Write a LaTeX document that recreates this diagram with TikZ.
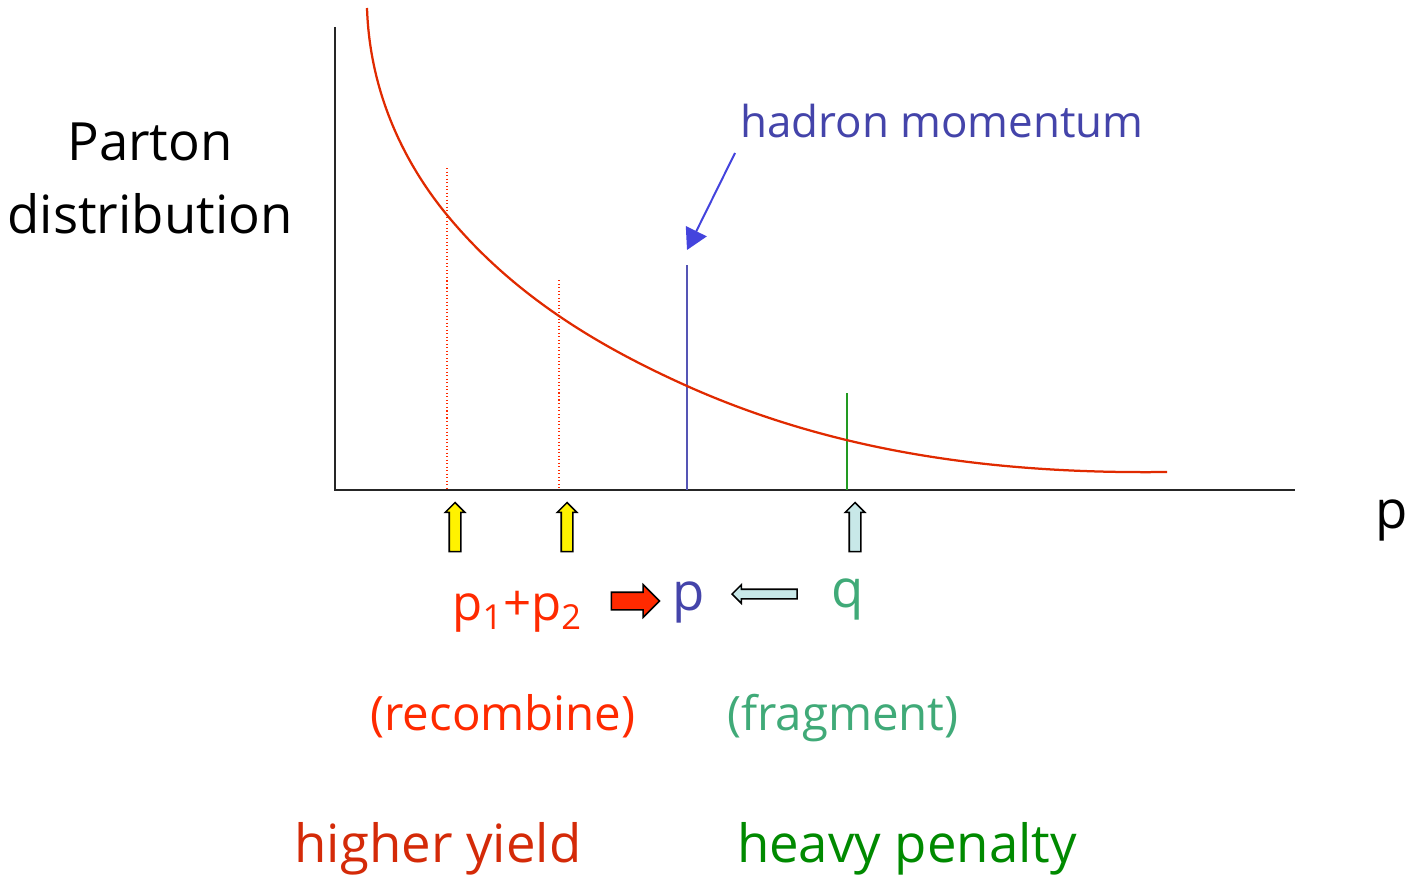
\documentclass[tikz,border=0pt]{standalone}
\usepackage{fontspec}
\setmainfont{Open Sans}
\usetikzlibrary{shapes.arrows,arrows.meta}

\definecolor{curvered}{HTML}{E02A00}
\definecolor{textred}{HTML}{FF2A00}
\definecolor{darkred}{HTML}{D42A08}
\definecolor{hadblue}{HTML}{4444AA}
\definecolor{arrowblue}{HTML}{4444DD}
\definecolor{lineblue}{HTML}{5555B5}
\definecolor{fraggreen}{HTML}{40AA78}
\definecolor{heavygreen}{HTML}{008A00}
\definecolor{linegreen}{HTML}{229A22}
\definecolor{paleblue}{HTML}{C8E8E8}

\tikzset{
  upblock/.style={single arrow, draw=black, line width=0.9pt, rotate=90,
    inner sep=0.1cm, minimum height=0.98cm, single arrow head extend=0.08cm},
  lbl/.style={inner sep=0pt}
}

\begin{document}
\begin{tikzpicture}[x=0.02cm,y=-0.02cm]
        \useasboundingbox (0,0) rectangle (1406,875);
        % axes
        \draw[line width=0.04cm,black!85] (335,27) -- (335,490) -- (1295,490);
        \draw (150,233) node[lbl,anchor=base,align=center,font=\fontsize{30}{41.5}\selectfont] (ylabel) {Parton\\distribution};
        \draw (1392,528) node[lbl,anchor=base,font=\fontsize{30}{36}\selectfont] (xlabel) {p};
        % markers on the p axis
        \draw[textred,line width=0.6pt,dash pattern=on 0.6pt off 1.4pt] (447,168) -- (447,490);
        \draw[textred,line width=0.6pt,dash pattern=on 0.6pt off 1.4pt] (559,280) -- (559,490);
        \draw[lineblue,line width=0.04cm] (687,265) -- (687,490);
        \draw[linegreen,line width=0.04cm] (847,393) -- (847,490);
        % parton distribution
        \draw[curvered,line width=0.045cm] (367,8) .. controls (370,100) and (410,170) .. (447,215)
          .. controls (517,300) and (607,350) .. (687,386)
          .. controls (837,453) and (997,474) .. (1167,472);
        % hadron momentum
        \draw (740,137) node[lbl,anchor=base west,text=hadblue,font=\fontsize{25}{30}\selectfont] (hadron) {hadron momentum};
        \coordinate (htail) at (735,153);
        \coordinate (htip) at (687,250);
        \draw[arrowblue,line width=0.04cm,-{Triangle[length=0.42cm,width=0.46cm]}] (htail) -- (htip);
        % block arrows
        \node[upblock,fill=yellow] (up1) at (455,530) {};
        \node[upblock,fill=yellow] (up2) at (567,530) {};
        \node[upblock,fill=paleblue] (up3) at (855,530) {};
        \node[single arrow,draw=black,line width=0.9pt,fill=textred,inner sep=0.16cm,
          minimum height=0.96cm,single arrow head extend=0.15cm] (recarrow) at (631,601) {};
        \node[single arrow,draw=black,line width=0.9pt,fill=paleblue,shape border rotate=180,inner sep=0.08cm,
          minimum height=1.3cm,single arrow head extend=0.09cm] (fragarrow) at (767,594) {};
        % momenta
        \draw (452,620) node[lbl,anchor=base west,text=textred,font=\fontsize{28}{34}\selectfont] (p12) {p\textsubscript{1}+p\textsubscript{2}};
        \draw (689,610) node[lbl,anchor=base,text=hadblue,font=\fontsize{30}{36}\selectfont] (ph) {p};
        \draw (848,607) node[lbl,anchor=base,text=fraggreen,font=\fontsize{30}{36}\selectfont] (q) {q};
        \draw (503,730) node[lbl,anchor=base,text=textred,font=\fontsize{27}{32}\selectfont] (recomb) {(recombine)};
        \draw (843,730) node[lbl,anchor=base,text=fraggreen,font=\fontsize{27}{32}\selectfont] (frag) {(fragment)};
        \draw (438,862) node[lbl,anchor=base,text=darkred,font=\fontsize{30}{36}\selectfont] (yield) {higher yield};
        \draw (907,862) node[lbl,anchor=base,text=heavygreen,font=\fontsize{30}{36}\selectfont] (penalty) {heavy penalty};
\end{tikzpicture}
\end{document}
